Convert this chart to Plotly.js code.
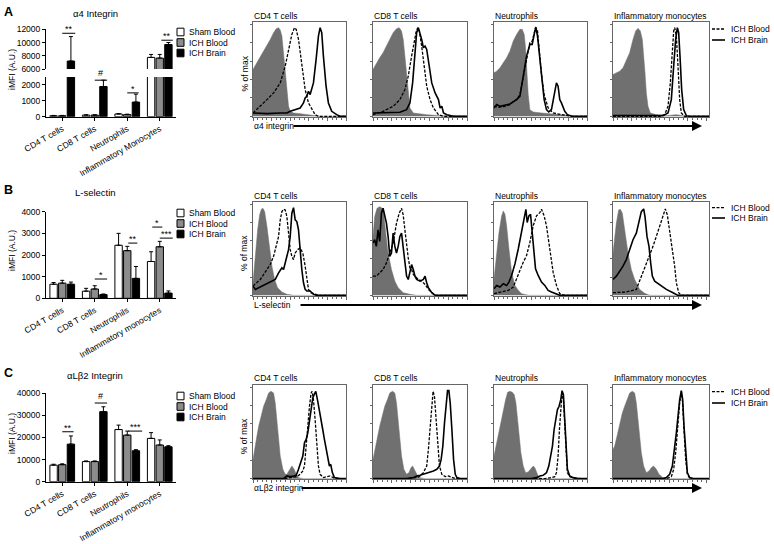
<!DOCTYPE html>
<html><head><meta charset="utf-8">
<script src="https://cdn.plot.ly/plotly-3.0.1.min.js"></script>
<style>body{margin:0;background:#fff}#chart{width:774px;height:544px}</style>
</head><body><div id="chart"></div>
<script>
// ---------- bar chart data ----------
const catsA = ['CD4 T cells','CD8 T cells','Neutrophils','Inflammatory Monocytes'];
const catsBC = ['CD4 T cells','CD8 T cells','Neutrophils','Inflammatory monocytes'];
const groups = ['Sham Blood','ICH Blood','ICH Brain'];

const a4Sham = [60, 100, 170, 7750];   const a4ShamErr = [20, 20, 30, 450];
const a4Blood = [60, 100, 130, 7650];  const a4BloodErr = [20, 20, 30, 550];
const a4Brain = [7200, 1900, 920, 9700]; const a4BrainErr = [3700, 400, 500, 300];

const lsSham = [650, 330, 2450, 1700];  const lsShamErr = [80, 130, 550, 450];
const lsBlood = [700, 430, 2200, 2380]; const lsBloodErr = [130, 150, 200, 250];
const lsBrain = [650, 170, 920, 240];   const lsBrainErr = [100, 30, 550, 100];

const lbSham = [7500, 9100, 23600, 19600];  const lbShamErr = [400, 300, 2000, 2600];
const lbBlood = [7700, 9100, 21100, 16600]; const lbBloodErr = [400, 300, 1800, 2300];
const lbBrain = [17000, 31700, 14000, 15800]; const lbBrainErr = [3700, 2200, 500, 500];

// significance marks: category, start/end offset, height, label
const sigA_cat = [0, 1, 2, 3]; const sigA_x0 = [0, 0, 0, 0.05]; const sigA_x1 = [0.4, 0.38, 0.35, 0.4];
const sigA_y = [11400, 2300, 1500, 10350]; const sigA_lab = ['**', '#', '*', '**']; const sigA_axis = ['y2','y','y','y2'];
const sigB_cat = [1, 2, 3, 3]; const sigB_x0 = [0, 0.03, -0.23, 0]; const sigB_x1 = [0.38, 0.31, 0.08, 0.4];
const sigB_y = [890, 2550, 3290, 2780]; const sigB_lab = ['*', '**', '*', '***'];
const sigC_cat = [0, 1, 2]; const sigC_x0 = [0, 0, 0.03]; const sigC_x1 = [0.35, 0.38, 0.46];
const sigC_y = [22600, 35600, 22900]; const sigC_lab = ['**', '#', '***'];

// ---------- flow histogram data (channel, events) ----------
const A_CD4_iso_x = [0,12,22,32,42,52,62,70,77,82,87,92,97,102,107,112,122,142,162,182,202,280];
const A_CD4_iso_y = [140,160,180,195,210,230,250,262,265,258,240,190,130,70,30,15,10,8,5,2,0,0];
const A_CD4_blood_x = [0,22,42,62,82,97,107,117,125,130,137,147,157,167,177,187,197,280];
const A_CD4_blood_y = [10,30,50,70,100,150,200,245,265,260,230,160,80,40,20,5,0,0];
const A_CD4_brain_x = [0,42,82,102,112,127,142,152,157,162,167,172,177,182,190,197,202,207,212,220,227,237,252,262,280];
const A_CD4_brain_y = [10,8,10,10,15,20,25,40,55,60,75,65,80,100,170,240,265,250,180,90,40,15,5,0,0];

const A_CD8_iso_x = [0,10,20,30,40,50,60,70,78,85,90,95,100,105,110,120,140,160,200,240,280];
const A_CD8_iso_y = [140,160,175,190,210,230,250,262,265,255,230,180,120,60,25,10,7,5,2,0,0];
const A_CD8_blood_x = [0,30,60,80,95,105,115,122,128,133,138,145,152,160,170,180,195,210,280];
const A_CD8_blood_y = [5,15,30,50,80,120,180,220,250,265,255,210,150,90,50,25,5,0,0];
const A_CD8_brain_x = [0,40,80,100,110,118,125,130,135,140,145,150,155,160,168,175,185,195,200,205,210,220,240,280];
const A_CD8_brain_y = [10,10,12,20,40,100,190,250,265,250,230,205,210,200,150,100,70,50,25,30,10,5,0,0];

const A_NEU_iso_x = [0,8,18,28,38,48,58,68,78,85,91,95,99,103,108,118,143,173,213,253,280];
const A_NEU_iso_y = [130,135,145,160,175,195,225,245,260,260,245,205,135,65,20,13,10,7,3,0,0];
const A_NEU_blood_x = [0,13,33,48,58,68,78,88,98,108,115,121,125,131,136,143,151,163,178,193,213,233,280];
const A_NEU_blood_y = [30,27,30,35,45,50,65,115,175,220,225,250,265,255,195,125,65,25,10,7,2,0,0];
const A_NEU_brain_x = [0,8,18,33,48,58,68,78,88,98,108,115,121,126,131,136,143,151,158,165,173,178,183,188,193,198,203,208,213,221,233,253,280];
const A_NEU_brain_y = [25,35,30,33,37,43,50,60,115,180,215,215,245,267,240,190,115,50,20,13,20,45,75,100,90,50,40,25,15,5,1,0,0];

const A_INF_iso_x = [0,10,20,30,40,50,60,68,75,82,88,92,96,100,105,112,130,160,190,220,288];
const A_INF_iso_y = [125,130,135,145,165,190,230,255,263,255,230,190,130,70,30,10,5,2,5,0,0];
const A_INF_blood_x = [0,140,155,165,172,178,182,185,190,195,200,205,215,288];
const A_INF_blood_y = [0,0,5,30,100,200,255,265,240,150,50,10,0,0];
const A_INF_brain_x = [0,150,165,175,182,188,193,197,201,206,212,220,230,288];
const A_INF_brain_y = [2,2,10,50,150,230,265,250,180,80,20,2,0,0];

const B_CD4_iso_x = [0,7,14,20,25,30,35,42,50,57,65,74,87,102,122,280];
const B_CD4_iso_y = [38,128,198,243,260,263,253,208,148,88,48,23,10,3,0,0];
const B_CD4_blood_x = [0,12,22,32,42,52,62,70,77,82,87,92,97,102,107,112,117,122,127,134,142,150,157,162,167,174,187,197,280];
const B_CD4_blood_y = [28,38,48,63,78,93,118,148,178,228,253,260,258,238,188,138,118,108,128,138,143,128,88,48,18,8,3,0,0];
const B_CD4_brain_x = [0,7,17,27,37,47,57,67,77,87,92,97,102,107,112,117,122,127,132,137,142,147,152,157,162,172,182,192,280];
const B_CD4_brain_y = [28,18,23,28,33,38,43,48,68,83,78,103,118,138,178,248,265,228,223,198,128,78,38,18,13,13,3,0,0];

const B_CD8_iso_x = [0,5,12,20,28,32,38,45,55,65,75,90,110,130,280];
const B_CD8_iso_y = [178,238,263,268,263,248,188,128,78,43,23,8,3,0,0];
const B_CD8_blood_x = [0,10,20,30,40,50,60,70,78,85,90,95,100,105,110,115,120,125,135,145,155,165,175,185,280];
const B_CD8_blood_y = [58,58,68,78,98,128,158,218,248,263,243,198,148,113,83,78,63,58,48,43,33,18,8,0,0];
const B_CD8_brain_x = [0,5,10,15,20,25,30,35,40,45,50,55,60,65,70,75,80,85,90,95,100,105,110,115,120,125,130,140,150,155,160,165,175,185,280];
const B_CD8_brain_y = [158,168,148,198,163,248,263,238,218,178,118,128,188,148,128,148,178,188,138,88,58,48,68,93,78,58,48,43,48,58,38,23,8,0,0];

const B_NEU_iso_x = [0,8,15,23,28,33,38,45,53,63,73,83,103,280];
const B_NEU_iso_y = [50,120,190,240,255,245,210,140,70,30,15,5,0,0];
const B_NEU_blood_x = [0,13,28,43,58,68,78,88,98,108,118,128,138,143,151,158,168,178,188,198,213,280];
const B_NEU_blood_y = [5,8,10,15,25,50,80,100,120,160,210,240,250,260,240,210,140,70,30,5,0,0];
const B_NEU_brain_x = [0,8,18,28,38,45,53,63,73,81,88,93,96,100,105,110,115,120,125,133,143,153,163,173,183,198,280];
const B_NEU_brain_y = [20,30,25,35,30,40,60,95,140,180,210,240,260,220,240,245,190,120,80,60,40,30,15,10,5,0,0];

const B_INF_iso_x = [0,10,17,22,28,35,45,55,65,80,95,110,288];
const B_INF_iso_y = [128,218,258,260,248,198,128,78,48,18,6,0,0];
const B_INF_blood_x = [0,40,70,80,90,100,110,120,130,140,150,157,163,170,178,185,190,197,205,288];
const B_INF_blood_y = [8,10,18,43,68,98,118,148,178,208,243,261,243,198,138,88,38,8,0,0];
const B_INF_brain_x = [0,10,20,30,40,50,60,70,78,85,92,96,102,108,113,118,125,140,160,180,195,288];
const B_INF_brain_y = [48,58,73,88,108,138,168,188,228,253,261,238,178,148,98,58,43,33,18,8,0,0];

const C_CD4_iso_x = [0,4,10,17,24,32,40,47,54,62,67,72,77,82,90,97,102,110,117,124,130,137,152,280];
const C_CD4_iso_y = [58,88,118,158,188,218,238,258,263,258,228,178,118,68,28,13,13,28,38,28,13,3,0,0];
const C_CD4_blood_x = [0,92,112,132,142,150,155,160,165,170,175,178,182,187,192,197,202,212,222,232,242,252,280];
const C_CD4_blood_y = [0,0,3,6,13,23,38,88,158,218,258,263,238,178,98,38,13,3,6,8,3,0,0];
const C_CD4_brain_x = [0,92,102,112,122,130,137,144,150,155,160,165,170,175,180,184,189,194,200,205,210,215,220,225,230,234,239,245,262,280];
const C_CD4_brain_y = [0,0,8,6,8,10,28,48,68,108,118,138,178,218,243,253,263,238,208,178,148,118,88,58,38,43,18,3,0,0];

const C_CD8_iso_x = [0,5,12,20,28,35,43,50,58,65,70,75,80,85,92,100,107,113,118,125,132,140,155,280];
const C_CD8_iso_y = [58,88,118,158,188,218,238,258,263,258,228,178,118,68,28,13,18,33,38,23,10,3,0,0];
const C_CD8_blood_x = [0,100,130,140,150,160,165,170,175,179,183,187,192,198,205,215,225,235,245,280];
const C_CD8_blood_y = [0,0,3,8,18,38,88,158,228,263,248,188,98,38,13,6,8,3,0,0];
const C_CD8_brain_x = [0,100,120,130,140,150,160,170,180,190,198,203,208,213,218,222,226,230,235,240,245,250,260,280];
const C_CD8_brain_y = [0,0,3,8,10,13,16,18,23,28,38,58,98,168,238,265,265,228,148,58,13,3,0,0];

const C_NEU_iso_x = [0,6,13,20,28,35,41,48,55,61,66,71,76,81,88,95,103,111,118,123,128,135,148,280];
const C_NEU_iso_y = [68,98,128,168,208,238,260,263,260,253,228,178,128,78,38,18,20,28,38,33,18,3,0,0];
const C_NEU_blood_x = [0,153,173,183,188,193,197,201,205,209,213,217,221,228,243,263,280];
const C_NEU_blood_y = [0,0,3,6,18,68,148,218,258,238,158,68,18,6,2,0,0];
const C_NEU_brain_x = [0,113,128,138,148,158,165,171,176,181,186,191,196,201,205,209,213,217,221,228,238,253,280];
const C_NEU_brain_y = [0,0,3,8,10,18,38,68,98,148,178,208,218,238,265,253,178,78,28,8,3,0,0];

const C_INF_iso_x = [0,5,12,20,28,35,42,50,58,65,70,75,80,85,92,100,108,115,122,130,138,150,165,288];
const C_INF_iso_y = [88,98,128,168,198,218,238,258,263,258,228,178,128,78,38,18,23,33,38,28,13,3,0,0];
const C_INF_blood_x = [0,160,175,182,188,194,200,205,209,213,218,223,230,240,288];
const C_INF_blood_y = [0,0,6,28,78,158,228,263,228,148,58,13,2,0,0];
const C_INF_brain_x = [0,150,160,170,178,185,190,195,200,205,209,213,218,223,230,240,288];
const C_INF_brain_y = [0,0,3,13,38,88,138,188,238,265,238,158,68,18,3,0,0];

const panelTitles = ['CD4 T cells','CD8 T cells','Neutrophils','Inflammatory monocytes'];
const markerLabels = ['α4 integrin','L-selectin','αLβ2 integrin'];
const barTitles = ['α4 Integrin','L-selectin','αLβ2 Integrin'];
const histLegend = ['ICH Blood','ICH Brain'];

// ---------- build ----------
const W = 774, H = 544;
const PX = v => v / W, PY = v => 1 - v / H;
const FONT = 'Liberation Sans, Arial, Helvetica, sans-serif';
const barColors = ['#ffffff', '#8c8c8c', '#000000'];
const traces = [];
const layout = {
  width: W, height: H, margin: {l:0, r:0, t:0, b:0},
  paper_bgcolor: '#fff', plot_bgcolor: 'rgba(0,0,0,0)',
  showlegend: false, barmode: 'group', bargap: 0.2, bargroupgap: 0.15,
  font: {family: FONT, size: 8.5, color: '#000'},
  annotations: [], shapes: []
};

function addBars(cats, vals, errs, xa, ya) {
  for (let i = 0; i < 3; i++) {
    traces.push({type:'bar', x:cats, y:vals[i], name:groups[i], xaxis:xa, yaxis:ya,
      marker:{color:barColors[i], line:{color:'#000', width:1}},
      error_y:{type:'data', array:errs[i], arrayminus:errs[i].map(()=>0), symmetric:false,
               color:'#000', thickness:1, width:2},
      hoverinfo:'skip'});
  }
}
addBars(catsA, [a4Sham,a4Blood,a4Brain], [a4ShamErr,a4BloodErr,a4BrainErr], 'x', 'y');
addBars(catsA, [a4Sham,a4Blood,a4Brain], [a4ShamErr,a4BloodErr,a4BrainErr], 'x', 'y2');
addBars(catsBC, [lsSham,lsBlood,lsBrain], [lsShamErr,lsBloodErr,lsBrainErr], 'x2', 'y3');
addBars(catsBC, [lbSham,lbBlood,lbBrain], [lbShamErr,lbBloodErr,lbBrainErr], 'x3', 'y4');

const barX = [PX(46), PX(176)];
const yAx = (dom, range, vals) => ({domain:dom, range:range, tickvals:vals, tickformat:'d',
  showline:true, linecolor:'#000', linewidth:1, ticks:'outside', ticklen:3, tickcolor:'#000',
  showgrid:false, zeroline:false, tickfont:{size:8.5}, fixedrange:true});
const xAx = (anchor) => ({domain:barX, anchor:anchor, type:'category', range:[-0.5,3.5],
  showline:true, linecolor:'#000', linewidth:1, ticks:'outside', ticklen:3, tickcolor:'#000',
  tickangle:-30, showgrid:false, zeroline:false, tickfont:{size:8.5}, fixedrange:true});
layout.xaxis = xAx('y');
layout.yaxis = Object.assign(yAx([PY(116.7), PY(77)], [0,2500], [0,1000,2000]), {anchor:'x'});
layout.yaxis2 = Object.assign(yAx([PY(69), PY(29.3)], [6000,12000], [6000,8000,10000,12000]), {anchor:'x'});
layout.xaxis2 = xAx('y3');
layout.yaxis3 = Object.assign(yAx([PY(298.3), PY(211.7)], [0,4000], [0,1000,2000,3000,4000]), {anchor:'x2'});
layout.xaxis3 = xAx('y4');
layout.yaxis4 = Object.assign(yAx([PY(481.7), PY(393.3)], [0,40000], [0,10000,20000,30000,40000]), {anchor:'x3'});

// significance
function addSig(cats, x0, x1, ys, labs, xref, yrefs) {
  cats.forEach((c, i) => {
    const yr = Array.isArray(yrefs) ? yrefs[i] : yrefs;
    layout.shapes.push({type:'line', xref:xref, yref:yr, x0:c + x0[i], x1:c + x1[i], y0:ys[i], y1:ys[i],
      line:{color:'#000', width:1}});
    layout.annotations.push({xref:xref, yref:yr, x:c + (x0[i] + x1[i]) / 2, y:ys[i], text:labs[i],
      showarrow:false, yanchor:'bottom', yshift: labs[i] === '#' ? 0 : -3, font:{size:9}});
  });
}
addSig(sigA_cat, sigA_x0, sigA_x1, sigA_y, sigA_lab, 'x', sigA_axis);
addSig(sigB_cat, sigB_x0, sigB_x1, sigB_y, sigB_lab, 'x2', 'y3');
addSig(sigC_cat, sigC_x0, sigC_x1, sigC_y, sigC_lab, 'x3', 'y4');

// histograms
const panels = [
  [[A_CD4_iso_x,A_CD4_iso_y,A_CD4_blood_x,A_CD4_blood_y,A_CD4_brain_x,A_CD4_brain_y],
   [A_CD8_iso_x,A_CD8_iso_y,A_CD8_blood_x,A_CD8_blood_y,A_CD8_brain_x,A_CD8_brain_y],
   [A_NEU_iso_x,A_NEU_iso_y,A_NEU_blood_x,A_NEU_blood_y,A_NEU_brain_x,A_NEU_brain_y],
   [A_INF_iso_x,A_INF_iso_y,A_INF_blood_x,A_INF_blood_y,A_INF_brain_x,A_INF_brain_y]],
  [[B_CD4_iso_x,B_CD4_iso_y,B_CD4_blood_x,B_CD4_blood_y,B_CD4_brain_x,B_CD4_brain_y],
   [B_CD8_iso_x,B_CD8_iso_y,B_CD8_blood_x,B_CD8_blood_y,B_CD8_brain_x,B_CD8_brain_y],
   [B_NEU_iso_x,B_NEU_iso_y,B_NEU_blood_x,B_NEU_blood_y,B_NEU_brain_x,B_NEU_brain_y],
   [B_INF_iso_x,B_INF_iso_y,B_INF_blood_x,B_INF_blood_y,B_INF_brain_x,B_INF_brain_y]],
  [[C_CD4_iso_x,C_CD4_iso_y,C_CD4_blood_x,C_CD4_blood_y,C_CD4_brain_x,C_CD4_brain_y],
   [C_CD8_iso_x,C_CD8_iso_y,C_CD8_blood_x,C_CD8_blood_y,C_CD8_brain_x,C_CD8_brain_y],
   [C_NEU_iso_x,C_NEU_iso_y,C_NEU_blood_x,C_NEU_blood_y,C_NEU_brain_x,C_NEU_brain_y],
   [C_INF_iso_x,C_INF_iso_y,C_INF_blood_x,C_INF_blood_y,C_INF_brain_x,C_INF_brain_y]]
];
const colPx = [[253,346],[373,467],[494,587],[613,709]];
const colRange = [280, 280, 280, 288];
const rowPx = [[22,117],[202,296],[385,479.3]];
const rowTitleY = [16, 196, 377.5];
const rowArrowY = [126, 305, 488];
const arrowStart = [292, 299, 300];
const rowLegY = [[29, 40], [207.7, 218], [391.7, 403]];

for (let r = 0; r < 3; r++) {
  for (let c = 0; c < 4; c++) {
    const k = 4 + r * 4 + c;       // x axis index
    const ky = 5 + r * 4 + c;      // y axis index
    const xa = 'x' + k, ya = 'y' + ky;
    const d = panels[r][c];
    traces.push({type:'scatter', mode:'lines', x:d[0], y:d[1], xaxis:xa, yaxis:ya, fill:'tozeroy',
      fillcolor:'#707070', line:{color:'#707070', width:0.5}, hoverinfo:'skip'});
    traces.push({type:'scatter', mode:'lines', x:d[2], y:d[3], xaxis:xa, yaxis:ya,
      line:{color:'#000', width:1.3, dash:'3px,1.5px'}, name:histLegend[0], hoverinfo:'skip'});
    traces.push({type:'scatter', mode:'lines', x:d[4], y:d[5], xaxis:xa, yaxis:ya,
      line:{color:'#000', width:1.6}, name:histLegend[1], hoverinfo:'skip'});
    layout['xaxis' + k] = {domain:[PX(colPx[c][0]), PX(colPx[c][1])], anchor:ya, range:[0, colRange[c]],
      showline:true, mirror:true, linecolor:'#666', linewidth:1, ticks:'outside', ticklen:2.5,
      tickcolor:'#666', dtick:56, showticklabels:false, showgrid:false, zeroline:false, fixedrange:true,
      minor:{ticks:'outside', ticklen:1.5, dtick:14, tickcolor:'#666'}};
    layout['yaxis' + ky] = {domain:[PY(rowPx[r][1]), PY(rowPx[r][0])], anchor:xa, range:[-2, 282],
      showline:true, mirror:true, linecolor:'#666', linewidth:1, ticks:'outside', ticklen:2,
      tickcolor:'#666', dtick:55, showticklabels:false, showgrid:false, zeroline:false, fixedrange:true};
    layout.annotations.push({xref:'paper', yref:'paper', x:PX(colPx[c][0] - 1), y:PY(rowTitleY[r]),
      xanchor:'left', yanchor:'middle', text:panelTitles[c], showarrow:false, font:{size:8.5}});
  }
  // y label
  layout.annotations.push({xref:'paper', yref:'paper', x:PX(244), y:PY((rowPx[r][0] + rowPx[r][1]) / 2 + 4),
    text:'% of max', textangle:-90, showarrow:false, xanchor:'center', yanchor:'middle', font:{size:8.5}});
  // marker label + arrow
  layout.annotations.push({xref:'paper', yref:'paper', x:PX(252), y:PY(rowArrowY[r]), xanchor:'left',
    yanchor:'middle', text:markerLabels[r], showarrow:false, font:{size:8.5}});
  layout.annotations.push({xref:'paper', yref:'paper', x:PX(702), y:PY(rowArrowY[r]), text:'',
    showarrow:true, arrowhead:2, arrowsize:1, arrowwidth:2, arrowcolor:'#000',
    ax:-(702 - arrowStart[r]), ay:0});
  // histogram legend
  for (let j = 0; j < 2; j++) {
    const yy = rowLegY[r][j];
    layout.shapes.push({type:'line', xref:'paper', yref:'paper', x0:PX(712), x1:PX(725), y0:PY(yy), y1:PY(yy),
      line:{color:'#000', width: j === 0 ? 1.3 : 1.6, dash: j === 0 ? '3px,1.5px' : 'solid'}});
    layout.annotations.push({xref:'paper', yref:'paper', x:PX(729), y:PY(yy), xanchor:'left', yanchor:'middle',
      text:histLegend[j], showarrow:false, font:{size:8.5}});
  }
}

// bar chart decorations
const barTitleY = [13, 193, 375];
const barLegY = [[32, 42.5, 53], [213, 223.5, 234], [396, 406.5, 417]];
const letterY = [12, 190, 373];
const ylabY = [70, 251, 434];
const letters = ['A','B','C'];
for (let r = 0; r < 3; r++) {
  layout.annotations.push({xref:'paper', yref:'paper', x:PX(95), y:PY(barTitleY[r]), text:barTitles[r],
    showarrow:false, xanchor:'center', yanchor:'middle', font:{size:9.5}});
  layout.annotations.push({xref:'paper', yref:'paper', x:PX(2), y:PY(letterY[r]), text:'<b>' + letters[r] + '</b>',
    showarrow:false, xanchor:'left', yanchor:'middle', font:{size:12.5}});
  layout.annotations.push({xref:'paper', yref:'paper', x:PX(12), y:PY(ylabY[r]), text:'iMFI (A.U.)',
    textangle:-90, showarrow:false, xanchor:'center', yanchor:'middle', font:{size:8.5}});
  for (let j = 0; j < 3; j++) {
    const yy = barLegY[r][j];
    layout.shapes.push({type:'rect', xref:'paper', yref:'paper', x0:PX(177), x1:PX(184), y0:PY(yy + 3.8), y1:PY(yy - 3.8),
      fillcolor:barColors[j], line:{color:'#000', width:1}});
    layout.annotations.push({xref:'paper', yref:'paper', x:PX(187), y:PY(yy), xanchor:'left', yanchor:'middle',
      text:groups[j], showarrow:false, font:{size:8.5}});
  }
}

Plotly.newPlot('chart', traces, layout, {staticPlot:true, displayModeBar:false});
</script></body></html>
